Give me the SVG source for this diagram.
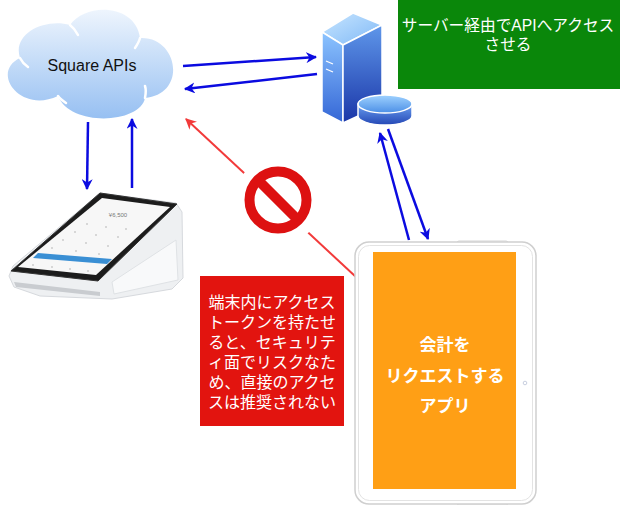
<svg xmlns="http://www.w3.org/2000/svg" width="620" height="505" viewBox="0 0 620 505">
<style>
.txt{font-family:"Liberation Sans","Noto Sans CJK JP",sans-serif;}
.wt{fill:#ffffff;font-size:16px;text-anchor:middle;}
.app{font-size:17px;font-weight:bold;}
.blue{stroke:#0b0be0;stroke-width:2.5;fill:none;}
.red{stroke:#f23a3a;stroke-width:2;fill:none;}
</style>
<defs>
<linearGradient id="cloudG" x1="0" y1="0" x2="0" y2="1">
<stop offset="0" stop-color="#eef5fd"/>
<stop offset="1" stop-color="#97c0f2"/>
</linearGradient>
<linearGradient id="frontG" x1="0" y1="0" x2="0" y2="1">
<stop offset="0" stop-color="#8cc4ff"/>
<stop offset="1" stop-color="#3466d6"/>
</linearGradient>
<linearGradient id="sideG" x1="0" y1="0" x2="0" y2="1">
<stop offset="0" stop-color="#5f97ea"/>
<stop offset="1" stop-color="#1a36a8"/>
</linearGradient>
<linearGradient id="topG" x1="0" y1="0" x2="1" y2="1">
<stop offset="0" stop-color="#c8e6ff"/>
<stop offset="1" stop-color="#7fb8f6"/>
</linearGradient>
<linearGradient id="diskTopG" x1="0" y1="0" x2="0" y2="1">
<stop offset="0" stop-color="#9fd2ff"/>
<stop offset="1" stop-color="#4c8fe6"/>
</linearGradient>
<linearGradient id="diskSideG" x1="0" y1="0" x2="0" y2="1">
<stop offset="0" stop-color="#6a9ff0"/>
<stop offset="1" stop-color="#2447b5"/>
</linearGradient>
<marker id="ab" viewBox="0 0 10 10" refX="9" refY="5" markerWidth="11" markerHeight="11" markerUnits="userSpaceOnUse" orient="auto">
<path d="M0,0 L10,5 L0,10 L3,5 Z" fill="#0b0be0"/>
</marker>
<marker id="ar" viewBox="0 0 10 10" refX="9" refY="5" markerWidth="11" markerHeight="11" markerUnits="userSpaceOnUse" orient="auto">
<path d="M0,0 L10,5 L0,10 L3,5 Z" fill="#f23a3a"/>
</marker>
</defs>
<rect width="620" height="505" fill="#ffffff"/>

<g id="connectors">
<line class="blue" x1="183" y1="66" x2="316" y2="57" marker-end="url(#ab)"/>
<line class="blue" x1="317" y1="74" x2="185" y2="89" marker-end="url(#ab)"/>
<line class="blue" x1="88" y1="122" x2="87" y2="189" marker-end="url(#ab)"/>
<line class="blue" x1="132" y1="188" x2="132" y2="119" marker-end="url(#ab)"/>
<line class="blue" x1="409" y1="240" x2="380" y2="133" marker-end="url(#ab)"/>
<line class="blue" x1="388" y1="129" x2="428" y2="239" marker-end="url(#ab)"/>
<line class="red" x1="356" y1="277" x2="186" y2="119" marker-end="url(#ar)"/>
</g>

<g id="square-apis">
<path d="M20,58 C12,34 44,18 70,25 C86,2 136,4 140,38 C178,36 188,94 145,98 C140,124 70,127 58,96 C20,114 -10,72 20,58 Z" fill="url(#cloudG)"/>
<g stroke="#ffffff" stroke-width="2.5" fill="none" stroke-linecap="round">
<path d="M20,58 C22,62 25,65 28,67"/>
<path d="M70,25 C74,28 76,31 78,35"/>
<path d="M140,38 C139,42 137,45 135,48"/>
<path d="M145,98 C146,93 146,89 145,86"/>
<path d="M58,96 C60,99 63,101 66,103"/>
</g>
<text class="txt" x="92" y="71" font-size="16" fill="#111111" text-anchor="middle">Square APIs</text>
</g>

<g id="server">
<polygon points="322,32 353,13 382,25 343,45" fill="url(#topG)" stroke="#ffffff" stroke-width="1.5"/>
<polygon points="322,32 343,45 343,123 322,112" fill="url(#frontG)" stroke="#ffffff" stroke-width="1.5"/>
<polygon points="343,45 382,25 382,105 343,123" fill="url(#sideG)" stroke="#ffffff" stroke-width="1.5"/>
<line x1="326" y1="61" x2="333" y2="64" stroke="#ffffff" stroke-width="1.3"/>
<line x1="326" y1="69" x2="333" y2="72" stroke="#ffffff" stroke-width="1.3"/>
<path d="M358,104 L358,116 A27,9 0 0 0 412,116 L412,104 Z" fill="url(#diskSideG)" stroke="#ffffff" stroke-width="1.5"/>
<ellipse cx="385" cy="104" rx="27" ry="9" fill="url(#diskTopG)" stroke="#ffffff" stroke-width="1.5"/>
</g>

<g id="note-server">
<rect x="398" y="0" width="222" height="89" fill="#0a870a"/>
<text class="txt wt" x="508" y="31" style="font-size:15.7px">サーバー経由でAPIへアクセス</text>
<text class="txt wt" x="508" y="50" style="font-size:15.7px">させる</text>
</g>

<g id="terminal">
<polygon points="100,193 176,203 182,212 183,278 172,289 112,299 40,296 14,287 9,276 13,266" fill="#eef0f2" stroke="#d6d9dd" stroke-width="1"/>
<polygon points="112,282 176,240 178,280 114,294" fill="#f8f9fa" stroke="#dfe2e5" stroke-width="1"/>
<polygon points="14,282 100,292 100,296 16,287" fill="#c9ccd0"/>
<polygon points="100,193 177,204 98,281 11,271" fill="#1c1c1c" stroke="#333333" stroke-width="1" stroke-linejoin="round"/>
<polygon points="102,198 170,207 96,275 18,267" fill="#f7f7f7"/>
<polygon points="38,253 112,259 107,264 33,258" fill="#3a8fd4"/>
<text class="txt" x="118" y="217" font-size="6" fill="#777777" text-anchor="middle">¥6,500</text>
<g fill="#b0b0b0">
<circle cx="87" cy="224" r="0.8"/><circle cx="106" cy="227" r="0.8"/><circle cx="126" cy="229" r="0.8"/>
<circle cx="75" cy="232" r="0.8"/><circle cx="96" cy="235" r="0.8"/><circle cx="118" cy="237" r="0.8"/>
<circle cx="63" cy="240" r="0.8"/><circle cx="86" cy="243" r="0.8"/><circle cx="108" cy="246" r="0.8"/>
<circle cx="52" cy="248" r="0.8"/><circle cx="76" cy="251" r="0.8"/><circle cx="99" cy="254" r="0.8"/>
<circle cx="33" cy="265" r="0.8"/><circle cx="52" cy="267" r="0.8"/><circle cx="70" cy="269" r="0.8"/><circle cx="88" cy="271" r="0.8"/>
</g>
</g>

<g id="prohibited">
<circle cx="278" cy="201" r="44" fill="#ffffff"/>
<circle cx="278" cy="200" r="28.5" fill="none" stroke="#dd1111" stroke-width="10"/>
<line x1="258" y1="180" x2="298" y2="220" stroke="#dd1111" stroke-width="10"/>
</g>

<g id="note-warning">
<rect x="200" y="276" width="144" height="150" fill="#e2140f"/>
<text class="txt wt" x="272" y="308">端末内にアクセス</text>
<text class="txt wt" x="272" y="328">トークンを持たせ</text>
<text class="txt wt" x="272" y="348">ると、セキュリテ</text>
<text class="txt wt" x="272" y="368">ィ面でリスクなた</text>
<text class="txt wt" x="272" y="388">め、直接のアクセ</text>
<text class="txt wt" x="272" y="408">スは推奨されない</text>
</g>

<g id="tablet-app">
<rect x="457" y="241" width="51" height="4" rx="2" fill="#ffffff" stroke="#d4d4d4" stroke-width="1"/>
<rect x="457" y="501" width="51" height="4" rx="2" fill="#ffffff" stroke="#d4d4d4" stroke-width="1"/>
<rect x="355" y="242" width="181" height="262" rx="14" fill="#ffffff" stroke="#cfcfcf" stroke-width="1.5"/>
<rect x="358.5" y="245.5" width="174" height="255" rx="11" fill="none" stroke="#e3e3e3" stroke-width="1"/>
<circle cx="525" cy="383" r="1.8" fill="none" stroke="#c8cfe0" stroke-width="1"/>
<rect x="373" y="252" width="143" height="237" fill="#ff9f15"/>
<text class="txt wt app" x="445" y="351">会計を</text>
<text class="txt wt app" x="445" y="382">リクエストする</text>
<text class="txt wt app" x="445" y="412">アプリ</text>
</g>
</svg>
